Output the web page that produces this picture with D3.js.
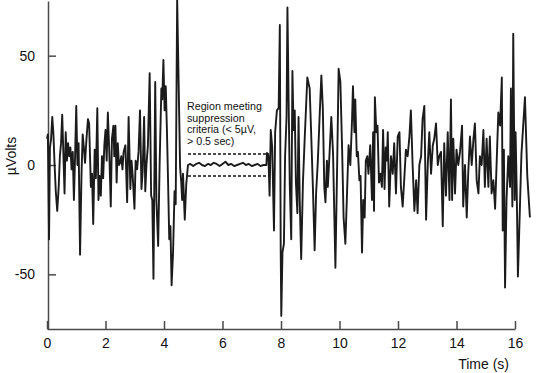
<!DOCTYPE html>
<html>
<head>
<meta charset="utf-8">
<title>EEG burst suppression</title>
<script src="https://cdn.jsdelivr.net/npm/d3@7"></script>
<style>
  body { margin: 0; background: #fff; }
  svg text { font-family: "Liberation Sans", Arial, Helvetica, sans-serif; fill: #111; }
  .axis path, .axis line { stroke: #4a4a4a; stroke-width: 1.5; }
  .axis text { font-size: 14px; }
</style>
</head>
<body>
<script>
// [time (s), amplitude (µV)]
var preSuppression = [
  [0.00, 12], [0.03, 14], [0.07, -34], [0.10, 8], [0.14, 12], [0.18, 22], [0.22, 14], [0.26, 0],
  [0.30, -12], [0.35, -21], [0.40, -10], [0.44, 4], [0.48, 10], [0.52, 23], [0.56, 5], [0.60, -13],
  [0.64, 15], [0.68, 2], [0.72, 10], [0.76, 4], [0.80, 8], [0.84, -2], [0.88, 6], [0.92, -16],
  [0.96, 4], [1.00, 27], [1.04, 0], [1.08, 10], [1.13, -41], [1.18, -4], [1.22, 14], [1.26, 8],
  [1.30, 1], [1.35, 12], [1.40, 21], [1.44, 19], [1.50, -10], [1.54, -4], [1.58, -27], [1.63, 7],
  [1.67, -6], [1.72, 26], [1.76, -16], [1.80, -5], [1.84, -14], [1.88, 4], [1.92, -6], [1.96, 9],
  [2.00, 16], [2.04, 2], [2.08, 24], [2.13, 6], [2.18, -19], [2.22, 12], [2.27, 18], [2.30, 4],
  [2.34, 18], [2.38, -8], [2.42, 10], [2.46, 0], [2.50, 1], [2.54, 4], [2.58, -2], [2.62, 6],
  [2.68, 9], [2.74, -17], [2.79, 22], [2.85, -11], [2.89, 2], [2.93, -5], [2.99, -20], [3.03, 2],
  [3.08, -2], [3.13, 6], [3.18, 25], [3.23, -11], [3.27, -3], [3.32, 22], [3.36, -12], [3.40, 0],
  [3.45, 9], [3.51, 42], [3.56, -14], [3.60, -16], [3.64, -52], [3.70, 38], [3.74, -16], [3.80, -37],
  [3.85, 0], [3.91, 35], [3.94, 30], [3.98, 48], [4.02, 25], [4.06, 36], [4.10, 16], [4.14, -8],
  [4.18, -34], [4.22, -28], [4.26, -55], [4.31, -40], [4.36, -12], [4.40, -18], [4.45, 76], [4.50, 38],
  [4.55, -1], [4.59, -8], [4.62, -16], [4.65, -4], [4.71, -25], [4.76, -9], [4.82, 0]
];
var suppression = [
  [4.90, 0.5], [5.00, -0.5], [5.10, 0.5], [5.20, 1], [5.30, 0], [5.40, -0.5], [5.50, 0.5], [5.60, 0],
  [5.70, 1], [5.80, 0.5], [5.90, -0.5], [6.00, 0.5], [6.10, 1.5], [6.20, 0], [6.30, 0.5], [6.40, -0.5],
  [6.50, 0], [6.60, 0.5], [6.70, 1], [6.80, 0], [6.90, 0.5], [7.00, -0.5], [7.10, 0], [7.20, 0.5],
  [7.30, -0.5], [7.40, 0], [7.50, 0]
];
var postSuppression = [
  [7.52, 5.5], [7.57, 4], [7.61, -14], [7.65, 16], [7.70, 8], [7.76, -30], [7.80, 15], [7.86, 25],
  [7.92, 26], [7.96, 64], [7.99, -39], [8.01, -69], [8.05, -40], [8.10, -36], [8.14, 4], [8.19, 22],
  [8.22, 72], [8.26, 30], [8.30, -9], [8.35, -34], [8.39, 43], [8.43, 16], [8.47, 25], [8.51, -8],
  [8.56, -22], [8.60, 22], [8.64, -16], [8.69, -43], [8.75, -8], [8.81, 12], [8.90, 40], [8.98, 35],
  [9.03, 15], [9.09, -10], [9.15, -39], [9.20, -13], [9.26, 2], [9.32, 22], [9.38, 41], [9.43, 26],
  [9.48, -10], [9.52, -17], [9.57, 2], [9.60, -10], [9.64, 0], [9.72, 22], [9.78, 5], [9.86, -47],
  [9.92, 0], [9.97, 44], [10.03, 38], [10.09, 7], [10.14, -24], [10.20, -36], [10.25, -16], [10.31, 9],
  [10.37, 0], [10.43, 21], [10.46, 36], [10.51, 15], [10.54, 30], [10.59, 4], [10.63, 6], [10.68, -7],
  [10.72, -5], [10.77, -40], [10.81, -16], [10.86, -24], [10.90, 2], [10.95, 4], [10.99, -4], [11.05, 9],
  [11.11, -16], [11.15, 15], [11.18, -21], [11.21, 31], [11.26, 15], [11.30, 18], [11.35, -8], [11.40, -4],
  [11.45, -10], [11.49, 16], [11.54, -11], [11.58, 8], [11.62, 2], [11.65, 15], [11.70, -19], [11.76, 4],
  [11.82, -4], [11.87, 10], [11.93, -13], [11.99, 13], [12.05, 15], [12.10, -10], [12.16, -19], [12.22, -5],
  [12.27, 7], [12.33, 4], [12.39, 13], [12.44, 25], [12.50, 0], [12.56, -21], [12.62, -7], [12.67, -22],
  [12.73, 0], [12.79, 4], [12.84, 21], [12.90, 27], [12.96, -25], [13.02, 1], [13.07, 15], [13.13, -4],
  [13.19, 9], [13.24, 12], [13.30, 19], [13.36, 0], [13.41, 4], [13.47, 6], [13.53, -28], [13.58, 10],
  [13.64, -14], [13.70, 15], [13.76, -16], [13.81, 30], [13.85, -16], [13.89, 12], [13.95, -13], [14.00, 7],
  [14.06, 0], [14.12, 6], [14.19, 18], [14.23, -19], [14.29, 0], [14.35, -24], [14.40, -4], [14.46, 13],
  [14.52, 0], [14.58, 12], [14.63, 19], [14.69, -7], [14.75, -13], [14.80, 4], [14.86, 0], [14.92, 16],
  [14.97, -10], [15.03, 12], [15.09, -10], [15.14, 13], [15.20, -13], [15.26, -7], [15.32, -20], [15.37, 0],
  [15.43, 24], [15.49, 18], [15.55, 40], [15.58, -30], [15.62, 7], [15.66, -56], [15.71, -16], [15.77, 4],
  [15.83, -10], [15.86, 35], [15.91, -19], [15.94, 60], [15.99, -16], [16.02, 15], [16.06, -13], [16.10, -51],
  [16.22, 5], [16.34, 31], [16.42, -5], [16.51, -24]
];
var xTicks = [0, 2, 4, 6, 8, 10, 12, 14, 16];
var yTicks = [-50, 0, 50];
var criteriaLevels = [5, -5];        // µV threshold
var criteriaSpan = [4.82, 7.6];      // s
var noteLines = ["Region meeting", "suppression", "criteria (< 5\u00b5V,", "> 0.5 sec)"];

var width = 538, height = 373,
    plotLeft = 47, plotRight = 515, plotTop = 1, plotBottom = 329;

var svg = d3.select("body").append("svg")
    .attr("width", width)
    .attr("height", height);

var x = d3.scaleLinear().domain([0, 16]).range([plotLeft, plotRight]);
var y = d3.scaleLinear().domain([-75, 75]).range([plotBottom, plotTop]);

// plain hyphen for negatives, as in the figure
var plain = function(d) { return String(d); };

svg.append("g").attr("class", "axis")
    .attr("transform", "translate(0," + plotBottom + ")")
    .call(d3.axisBottom(x).tickValues(xTicks).tickFormat(plain)
        .tickSizeInner(-8).tickSizeOuter(0).tickPadding(9));

svg.append("g").attr("class", "axis")
    .attr("transform", "translate(" + (plotLeft + 1) + ",0)")
    .call(d3.axisLeft(y).tickValues(yTicks).tickFormat(plain)
        .tickSizeInner(-8).tickSizeOuter(0).tickPadding(13));

svg.selectAll(".axis text").attr("fill", "#111");

// dashed threshold band
svg.selectAll("line.criteria")
    .data(criteriaLevels)
  .enter().append("line")
    .attr("class", "criteria")
    .attr("x1", x(criteriaSpan[0])).attr("x2", x(criteriaSpan[1]))
    .attr("y1", function(d) { return y(d); })
    .attr("y2", function(d) { return y(d); })
    .attr("stroke", "#111")
    .attr("stroke-width", 1.6)
    .attr("stroke-dasharray", "3,2");

var trace = preSuppression.concat(suppression, postSuppression);
var line = d3.line()
    .x(function(d) { return x(d[0]); })
    .y(function(d) { return y(d[1]); });

svg.append("path")
    .datum(trace)
    .attr("d", line)
    .attr("fill", "none")
    .attr("stroke", "#1b1b1b")
    .attr("stroke-width", 1.9)
    .attr("stroke-linejoin", "round");

// annotation
svg.append("text")
    .attr("x", 187).attr("y", 110)
    .style("font-size", "10.7px")
  .selectAll("tspan")
    .data(noteLines)
  .enter().append("tspan")
    .attr("x", 187)
    .attr("dy", function(d, i) { return i ? 11.6 : 0; })
    .text(function(d) { return d; });

svg.append("text")
    .attr("x", 509).attr("y", 369)
    .attr("text-anchor", "end")
    .style("font-size", "14px")
    .text("Time (s)");

svg.append("text")
    .attr("transform", "translate(16,156) rotate(-90)")
    .attr("text-anchor", "middle")
    .style("font-size", "14px")
    .text("\u00b5Volts");
</script>
</body>
</html>
